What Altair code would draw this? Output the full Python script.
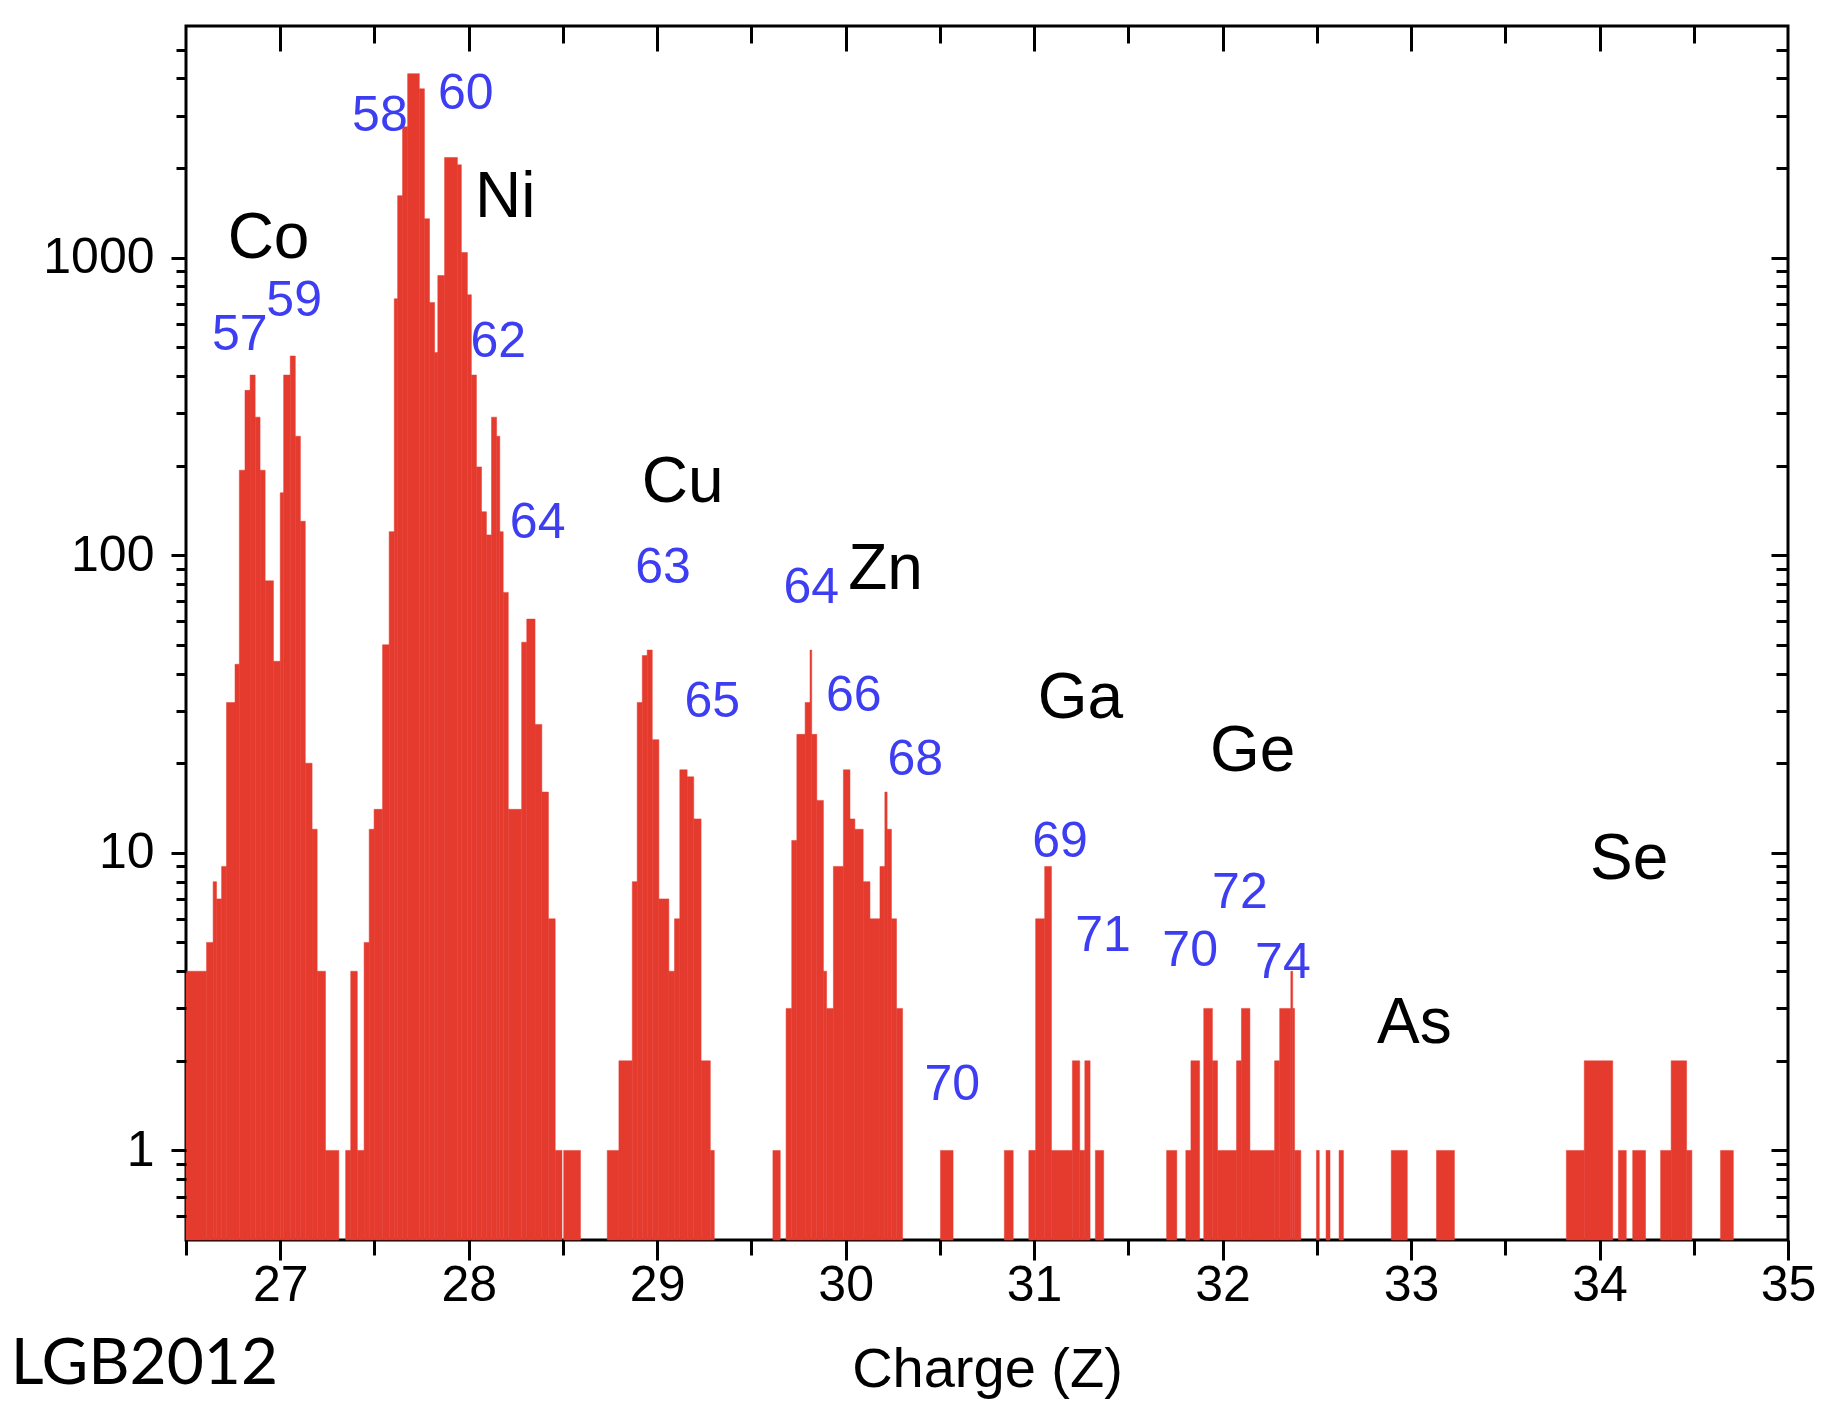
import altair as alt
import pandas as pd

# ---- histogram runs (constant-height steps): start, end, counts ----
run_start = [
    26.500, 26.609, 26.644, 26.662, 26.689, 26.715, 26.760, 26.783, 26.813, 26.840,
    26.867, 26.893, 26.920, 26.964, 27.000, 27.018, 27.053, 27.080, 27.107, 27.133,
    27.169, 27.196, 27.240, 27.347, 27.374, 27.409, 27.445, 27.472, 27.498, 27.543,
    27.578, 27.605, 27.623, 27.649, 27.676, 27.738, 27.765, 27.792, 27.819, 27.836,
    27.872, 27.940, 27.961, 27.993, 28.014, 28.041, 28.068, 28.094, 28.121, 28.148,
    28.165, 28.183, 28.210, 28.281, 28.308, 28.352, 28.388, 28.423, 28.459, 28.504,
    28.735, 28.797, 28.868, 28.894, 28.921, 28.947, 28.974, 29.009, 29.062, 29.092,
    29.120, 29.159, 29.194, 29.233, 29.282, 29.614, 29.684, 29.714, 29.741, 29.785,
    29.811, 29.820, 29.847, 29.882, 29.899, 29.935, 29.988, 30.023, 30.049, 30.093,
    30.129, 30.182, 30.208, 30.220, 30.243, 30.270, 30.503, 30.842, 30.972, 31.008,
    31.056, 31.092, 31.203, 31.242, 31.269, 31.325, 31.703, 31.805, 31.832, 31.900,
    31.946, 31.973, 32.074, 32.100, 32.145, 32.276, 32.303, 32.362, 32.372, 32.382,
    32.498, 32.549, 32.618, 32.895, 33.135, 33.824, 33.919, 34.100, 34.176, 34.324,
    34.380, 34.462, 34.642,
]
run_end = [
    26.609, 26.644, 26.662, 26.689, 26.715, 26.760, 26.783, 26.813, 26.840, 26.867,
    26.893, 26.920, 26.964, 27.000, 27.018, 27.053, 27.080, 27.107, 27.133, 27.169,
    27.196, 27.240, 27.311, 27.374, 27.409, 27.445, 27.472, 27.498, 27.543, 27.578,
    27.605, 27.623, 27.649, 27.676, 27.738, 27.765, 27.792, 27.819, 27.836, 27.872,
    27.940, 27.961, 27.993, 28.014, 28.041, 28.068, 28.094, 28.121, 28.148, 28.165,
    28.183, 28.210, 28.281, 28.308, 28.352, 28.388, 28.423, 28.459, 28.495, 28.593,
    28.797, 28.868, 28.894, 28.921, 28.947, 28.974, 29.009, 29.062, 29.092, 29.120,
    29.159, 29.194, 29.233, 29.282, 29.303, 29.653, 29.714, 29.741, 29.785, 29.811,
    29.820, 29.847, 29.882, 29.899, 29.935, 29.988, 30.023, 30.049, 30.093, 30.129,
    30.182, 30.208, 30.220, 30.243, 30.270, 30.302, 30.570, 30.889, 31.008, 31.056,
    31.092, 31.203, 31.242, 31.269, 31.297, 31.369, 31.757, 31.832, 31.878, 31.946,
    31.973, 32.074, 32.100, 32.145, 32.276, 32.303, 32.362, 32.372, 32.382, 32.415,
    32.513, 32.570, 32.641, 32.980, 33.230, 33.919, 34.070, 34.142, 34.244, 34.380,
    34.462, 34.490, 34.710,
]
run_count = [
    4, 5, 8, 7, 9, 32, 43, 193, 358, 403,
    291, 193, 82, 44, 162, 403, 467, 251, 130, 20,
    12, 4, 1, 1, 4, 1, 5, 12, 14, 50,
    120, 727, 1615, 2750, 4150, 3690, 1350, 707, 480, 870,
    2170, 2050, 1040, 750, 403, 198, 140, 117, 291, 251,
    120, 75, 14, 51, 61, 27, 16, 6, 1, 1,
    1, 2, 8, 32, 46, 48, 24, 7, 4, 6,
    19, 18, 13, 2, 1, 1, 3, 11, 25, 32,
    48, 25, 15, 4, 3, 9, 19, 13, 12, 8,
    6, 9, 16, 12, 6, 3, 1, 1, 1, 6,
    9, 1, 2, 1, 2, 1, 1, 1, 2, 3,
    2, 1, 2, 3, 1, 2, 3, 4, 3, 1,
    1, 1, 1, 1, 1, 1, 2, 1, 1, 1,
    2, 1, 1,
]

# ---- annotations ----
element_names = ["Co", "Ni", "Cu", "Zn", "Ga", "Ge", "As", "Se"]
element_x = [26.938, 28.194, 29.135, 30.212, 31.246, 32.160, 33.018, 34.157]
element_y = [1156, 1587, 175, 88.9, 32.8, 21.8, 2.66, 9.47]

isotope_names = ["57", "59", "58", "60", "62", "64", "63", "65", "64",
                 "66", "68", "70", "69", "71", "70", "72", "74"]
isotope_x = [26.785, 27.074, 27.529, 27.985, 28.157, 28.366, 29.031, 29.292, 29.818,
             30.043, 30.369, 30.566, 31.138, 31.366, 31.828, 32.092, 32.320]
isotope_y = [550, 715, 2995, 3557, 521, 128, 90.5, 32.2, 77.6,
             33.7, 20.5, 1.66, 10.9, 5.25, 4.67, 7.35, 4.26]

# caption fragment in the lower-left corner of the reference
caption_text = ["LGB2012"]
caption_x = [25.57]
caption_y = [0.164]

# ---- tick values ----
x_major = [27, 28, 29, 30, 31, 32, 33, 34, 35]
x_minor = [26.5, 27.5, 28.5, 29.5, 30.5, 31.5, 32.5, 33.5, 34.5]
y_major = [1, 10, 100, 1000]
y_minor = [0.6, 0.7, 0.8, 0.9, 2, 3, 4, 5, 6, 7, 8, 9,
           20, 30, 40, 50, 60, 70, 80, 90,
           200, 300, 400, 500, 600, 700, 800, 900,
           2000, 3000, 4000, 5000]

W, H = 1602, 1214
FONT = "Liberation Sans"
RED = "#e53b2f"
BLUE = "#3d3df2"

runs = pd.DataFrame({"start": run_start, "end": run_end, "count": run_count})
elements = pd.DataFrame({"label": element_names, "x": element_x, "y": element_y})
isotopes = pd.DataFrame({"label": isotope_names, "x": isotope_x, "y": isotope_y})
caption = pd.DataFrame({"label": caption_text, "x": caption_x, "y": caption_y})

xs = alt.Scale(domain=[26.5, 35], nice=False, zero=False)
ys = alt.Scale(type="log", domain=[0.5, 6000], nice=False)


def axis(**kw):
    base = dict(grid=False, domain=False, tickColor="black", tickWidth=3,
                zindex=1, labelFlush=False, labelOverlap=False)
    base.update(kw)
    return alt.Axis(**base)


bars = alt.Chart(runs).mark_rect(color=RED, stroke=RED, strokeWidth=0.5).encode(
    x=alt.X("start:Q", scale=xs,
            axis=axis(orient="bottom", values=x_major, format="d", tickSize=20,
                      labelFont=FONT, labelFontSize=50, labelColor="black",
                      labelPadding=0, title="Charge (Z)", titleFont=FONT,
                      titleFontSize=56, titleFontWeight="normal",
                      titleColor="black", titlePadding=32)),
    x2="end:Q",
    y=alt.Y("count:Q", scale=ys,
            axis=axis(orient="left", values=y_major, format="d", tickSize=15,
                      labelFont=FONT, labelFontSize=50, labelColor="black",
                      labelPadding=17, title=None)),
    y2=alt.datum(0.5),
)


def ghost(x_ax, y_ax):
    return alt.Chart(runs).mark_rect(opacity=0).encode(
        x=alt.X("start:Q", scale=xs, axis=x_ax),
        x2="end:Q",
        y=alt.Y("count:Q", scale=ys, axis=y_ax),
        y2=alt.datum(0.5),
    )


g_minor = ghost(
    axis(orient="bottom", values=x_minor, tickSize=15, labels=False, title=None),
    axis(orient="left", values=y_minor, tickSize=10, labels=False, title=None),
)
g_inner_major = ghost(
    axis(orient="bottom", offset=-H, values=x_major[:-1], tickSize=25, labels=False, title=None),
    axis(orient="left", offset=-W, values=y_major, tickSize=17, labels=False, title=None),
)
g_inner_minor = ghost(
    axis(orient="bottom", offset=-H, values=x_minor[1:], tickSize=17, labels=False, title=None),
    axis(orient="left", offset=-W, values=y_minor, tickSize=12, labels=False, title=None),
)

el_text = alt.Chart(elements).mark_text(
    font=FONT, fontSize=64, color="black", align="center", baseline="middle"
).encode(
    x=alt.X("x:Q", scale=xs, axis=None),
    y=alt.Y("y:Q", scale=ys, axis=None),
    text="label:N",
)
iso_text = alt.Chart(isotopes).mark_text(
    font=FONT, fontSize=50, color=BLUE, align="center", baseline="middle"
).encode(
    x=alt.X("x:Q", scale=xs, axis=None),
    y=alt.Y("y:Q", scale=ys, axis=None),
    text="label:N",
)
cap_text = alt.Chart(caption).mark_text(
    font="Lato", fontSize=64, color="black", align="left", baseline="alphabetic"
).encode(
    x=alt.X("x:Q", scale=xs, axis=None),
    y=alt.Y("y:Q", scale=ys, axis=None),
    text="label:N",
)

chart = (
    alt.layer(bars, g_minor, g_inner_major, g_inner_minor, el_text, iso_text, cap_text)
    .resolve_scale(x="shared", y="shared")
    .resolve_axis(x="independent", y="independent")
    .properties(
        width=W,
        height=H,
        background="white",
        autosize=alt.AutoSizeParams(type="none"),
        padding={"left": 178, "top": 18, "right": 29, "bottom": 160},
    )
    .configure_view(stroke="black", strokeWidth=3)
)

chart.save("out.html", embed_options={"renderer": "svg", "actions": False})
